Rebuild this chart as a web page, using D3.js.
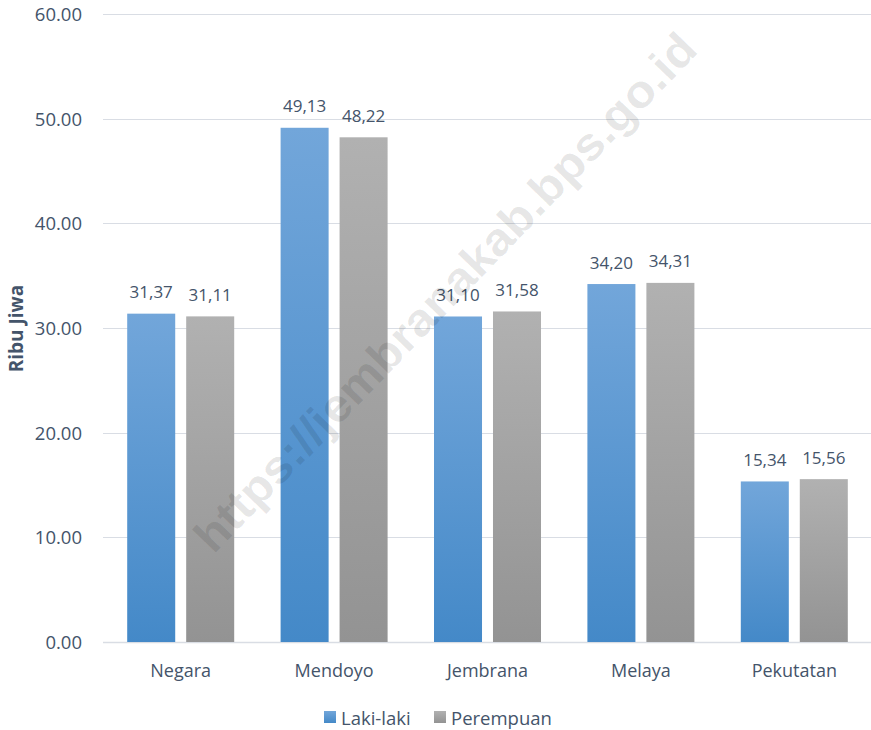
<!DOCTYPE html>
<html><head><meta charset="utf-8">
<script src="https://cdn.jsdelivr.net/npm/d3@7"></script>
<style>body{margin:0;background:#fff}svg{display:block}text{font-family:"Open Sans",sans-serif}</style>
</head><body><svg id="c" width="871" height="730"></svg>
<script>
const categories = ["Negara","Mendoyo","Jembrana","Melaya","Pekutatan"];
const seriesNames = ["Laki-laki","Perempuan"];
const lakiLaki = [31.37,49.13,31.10,34.20,15.34];
const perempuan = [31.11,48.22,31.58,34.31,15.56];
const yTicks = [0,10,20,30,40,50,60];
const yTitle = "Ribu Jiwa";
const watermark = "https://jembranakab.bps.go.id";

const svg = d3.select("#c");
const defs = svg.append("defs");
const grads = [["gBlue","#72a6da","#4489c8"],["gGray","#b1b1b1","#939393"]];
grads.forEach(([id,a,b])=>{
  const g = defs.append("linearGradient").attr("id",id).attr("x1",0).attr("y1",0).attr("x2",0).attr("y2",1);
  g.append("stop").attr("offset","0%").attr("stop-color",a);
  g.append("stop").attr("offset","100%").attr("stop-color",b);
});
const fills = ["url(#gBlue)","url(#gGray)"];
const txt = "#44546a";

const m = {l:104,r:0,t:14,b:88};
const W = 871, H = 730;
const x = d3.scaleBand().domain(categories).range([m.l, W-m.r]);
const y = d3.scaleLinear().domain([0,60]).range([H-m.b, m.t]);
const x1 = d3.scaleBand().domain(seriesNames).range([0,107]).paddingInner(0.186);

// gridlines
svg.append("g").selectAll("line").data(yTicks).join("line")
  .attr("x1",m.l-1).attr("x2",W).attr("y1",d=>Math.round(y(d))+0.5).attr("y2",d=>Math.round(y(d))+0.5)
  .attr("stroke","#d9dde4").attr("stroke-width",d=>d===0?1.5:1);

// y axis labels
const yAxis = d3.axisLeft(y).tickValues(yTicks).tickFormat(d3.format(".2f")).tickSize(0).tickPadding(0);
const ya = svg.append("g").attr("transform","translate(82,0)").call(yAxis);
ya.select(".domain").remove();
ya.selectAll("text").attr("fill",txt).style("font-size","18.5px").style("font-family","'Open Sans',sans-serif").attr("dy","0.35em");

// x axis labels
const xAxis = d3.axisBottom(x).tickSize(0).tickPadding(0);
const xa = svg.append("g").attr("transform",`translate(0,677)`).call(xAxis);
xa.select(".domain").remove();
xa.selectAll("text").attr("fill",txt).style("font-size","18px").style("font-family","'Open Sans',sans-serif").attr("dy","0").attr("y",0);

// bars
const data = categories.map((c,i)=>({c, vals:[lakiLaki[i],perempuan[i]]}));
const groups = svg.append("g").selectAll("g").data(data).join("g")
  .attr("transform",d=>`translate(${x(d.c)+x.bandwidth()/2-53.5},0)`);
groups.selectAll("rect").data(d=>d.vals.map((v,k)=>({v,k}))).join("rect")
  .attr("x",d=>x1(seriesNames[d.k])).attr("width",x1.bandwidth())
  .attr("y",d=>y(d.v)).attr("height",d=>y(0)-y(d.v)).attr("fill",d=>fills[d.k]);
groups.selectAll("text").data(d=>d.vals.map((v,k)=>({v,k}))).join("text")
  .attr("x",d=>x1(seriesNames[d.k])+x1.bandwidth()/2).attr("y",d=>y(d.v)-15.5)
  .attr("text-anchor","middle").attr("fill",txt).style("font-size","17px")
  .text(d=>d.v.toFixed(2).replace(".",","));

// y title
svg.append("text").attr("transform",`translate(23,${(287+370)/2}) rotate(-90)`)
  .attr("text-anchor","middle").attr("fill",txt).style("font-size","19px").style("font-weight","bold").text(yTitle);

// legend
const lg = svg.append("g").attr("transform","translate(324,711)");
const lx = [0,110];
seriesNames.forEach((s,k)=>{
  lg.append("rect").attr("x",lx[k]).attr("y",0).attr("width",12).attr("height",12).attr("fill",fills[k]);
  lg.append("text").attr("x",lx[k]+17).attr("y",14).attr("fill",txt).style("font-size","18.5px").text(s);
});

// watermark
svg.append("text").attr("transform","translate(445,292) rotate(-46)")
  .attr("text-anchor","middle").attr("dy","0.35em")
  .attr("fill","#000").attr("fill-opacity",0.1)
  .style("font-size","46px").style("font-weight","bold").style("font-family","'Liberation Sans',Arial,sans-serif")
  .attr("textLength",700).attr("lengthAdjust","spacingAndGlyphs")
  .text(watermark);
</script></body></html>
